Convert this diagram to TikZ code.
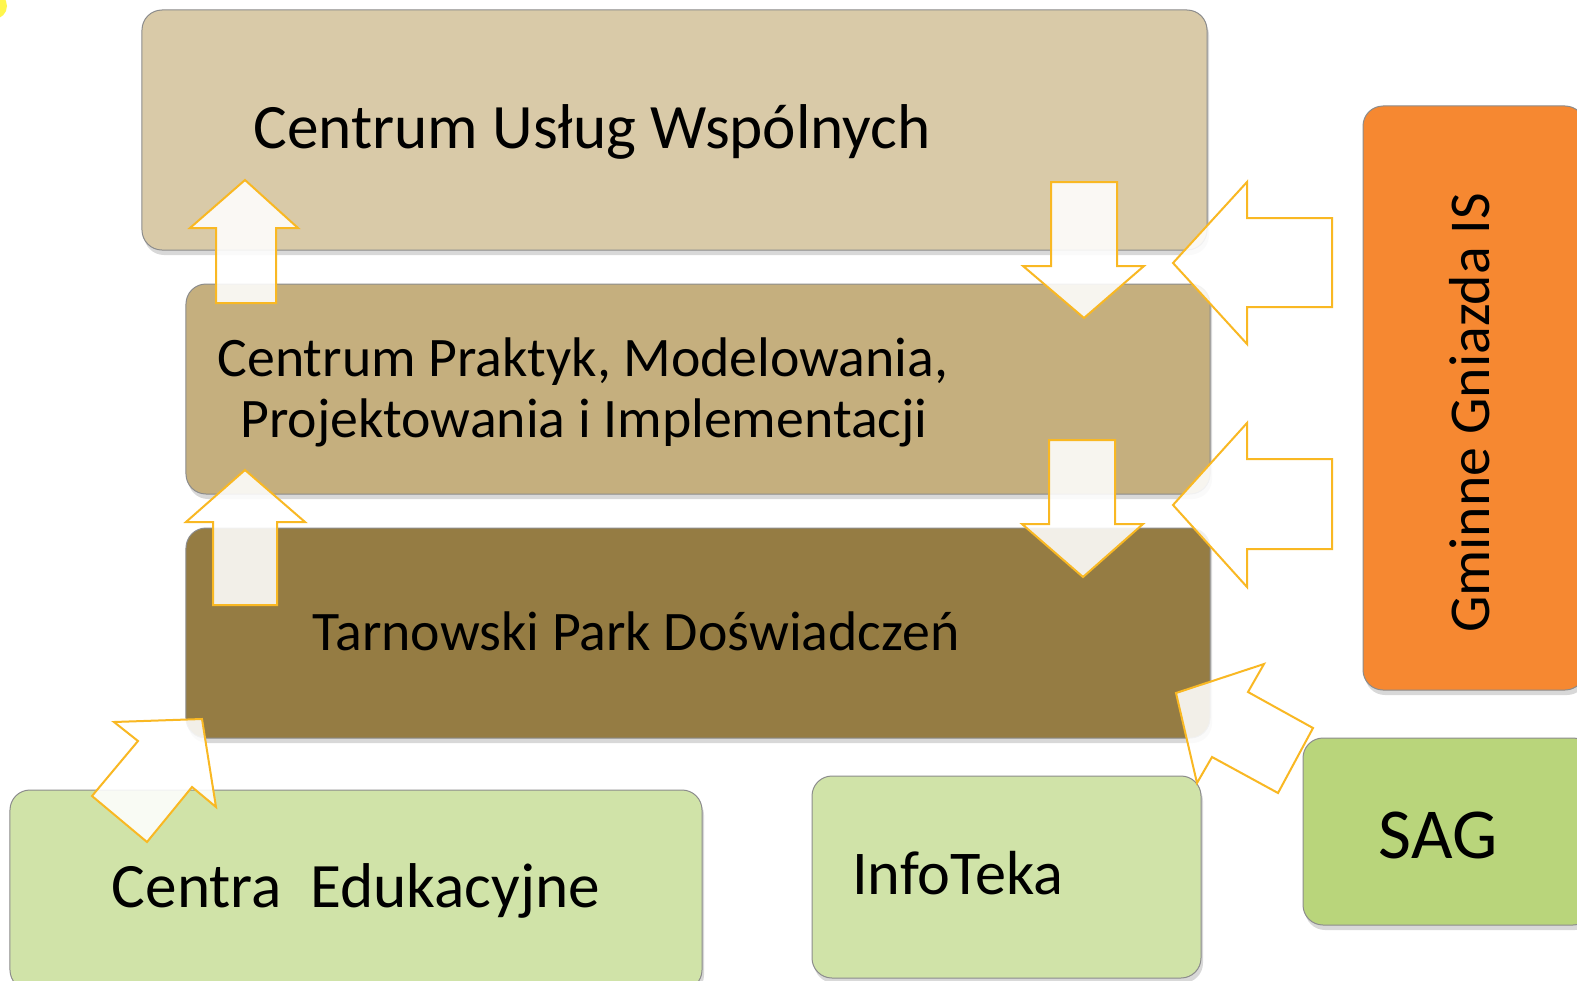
\documentclass[tikz,border=0pt]{standalone}
\usepackage{fontspec}
\setmainfont{Carlito}
\usetikzlibrary{shadows}
\definecolor{cBoxA}{RGB}{217,202,168}
\definecolor{cBoxB}{RGB}{197,175,126}
\definecolor{cBoxC}{RGB}{149,124,67}
\definecolor{cOrange}{RGB}{246,136,49}
\definecolor{cSag}{RGB}{185,213,123}
\definecolor{cLight}{RGB}{208,227,168}
\definecolor{cArrow}{RGB}{249,184,35}
\tikzset{
  box/.style={draw=black!45, line width=1bp, rounded corners=20bp, inner sep=0pt,
    drop shadow={shadow xshift=2bp, shadow yshift=-5bp, opacity=0.3}},
  label/.style={inner sep=0pt, anchor=base, text=black},
  blockarrow/.style={draw=cArrow, line width=2bp, fill=white, fill opacity=0.88, line join=miter},
}
\begin{document}
\begin{tikzpicture}[x=1bp, y=-1bp]
\begin{scope}
\clip (0,0) rectangle (1577,980);
\fill[white] (0,0) rectangle (1577,980);
% small yellow fragment in the corner
\fill[yellow!70] (-6,6) circle (13);
% boxes
\node[box, fill=cBoxA, minimum width=1065bp, minimum height=240bp] (b1) at (674.5,130) {};
\node[box, fill=cBoxB, minimum width=1024bp, minimum height=210bp] (b2) at (698,389) {};
\node[box, fill=cBoxC, minimum width=1024bp, minimum height=210bp] (b3) at (698,633) {};
\node[box, fill=cOrange, minimum width=222bp, minimum height=584bp] (gg) at (1474,398) {};
\node[box, fill=cSag, minimum width=290bp, minimum height=187bp] (sag) at (1448,831.5) {};
\node[box, fill=cLight, minimum width=389bp, minimum height=202bp] (info) at (1006.5,877) {};
\node[box, fill=cLight, minimum width=692bp, minimum height=200bp] (ce) at (356,890) {};
% texts
\node[label, font=\fontsize{63.5}{70}\selectfont] (t1) at (592,148) {Centrum Usług Wspólnych};
\node[label, font=\fontsize{56}{62}\selectfont] (t2a) at (583,376) {Centrum Praktyk, Modelowania,};
\node[label, font=\fontsize{56}{62}\selectfont] (t2b) at (584,437) {Projektowania i Implementacji};
\node[label, font=\fontsize{56}{62}\selectfont] (t3) at (636,650) {Tarnowski Park Doświadczeń};
\node[label, font=\fontsize{58}{64}\selectfont, rotate=90] (tg) at (1489,413) {Gminne Gniazda IS};
\node[label, font=\fontsize{72}{80}\selectfont] (ts) at (1438,858) {SAG};
\node[label, anchor=base west, font=\fontsize{62.5}{70}\selectfont] (ti) at (852,894) {InfoTeka};
\node[label, font=\fontsize{63.5}{70}\selectfont] (tc) at (356,907) {Centra~ Edukacyjne};
% block arrows
% up arrows
\draw[blockarrow] (245,180) -- (298,228) -- (276,228) -- (276,303) -- (216,303) -- (216,228) -- (190,228) -- cycle;
\draw[blockarrow] (245,470) -- (305,522) -- (277,522) -- (277,605) -- (213,605) -- (213,522) -- (186,522) -- cycle;
% down arrows
\draw[blockarrow] (1084,318) -- (1144,266) -- (1117,266) -- (1117,182) -- (1051,182) -- (1051,266) -- (1023,266) -- cycle;
\draw[blockarrow] (1083,577) -- (1143,524) -- (1115,524) -- (1115,440) -- (1049,440) -- (1049,524) -- (1022,524) -- cycle;
% left arrows
\draw[blockarrow] (1173,263) -- (1247,182) -- (1247,218) -- (1332,218) -- (1332,307) -- (1247,307) -- (1247,344) -- cycle;
\draw[blockarrow] (1173,505) -- (1247,423) -- (1247,459) -- (1332,459) -- (1332,549) -- (1247,549) -- (1247,587) -- cycle;
% diagonal arrows
\draw[blockarrow] (1176,693) -- (1264,664) -- (1248,692) -- (1313,728) -- (1278,793) -- (1212,757) -- (1197,783) -- cycle;
\draw[blockarrow] (202,719) -- (114,722) -- (138,741) -- (92,796) -- (147,842) -- (192,787) -- (216,807) -- cycle;
\end{scope}
\pgfresetboundingbox
\useasboundingbox (0,0) rectangle (1577,980);
\end{tikzpicture}
\end{document}
